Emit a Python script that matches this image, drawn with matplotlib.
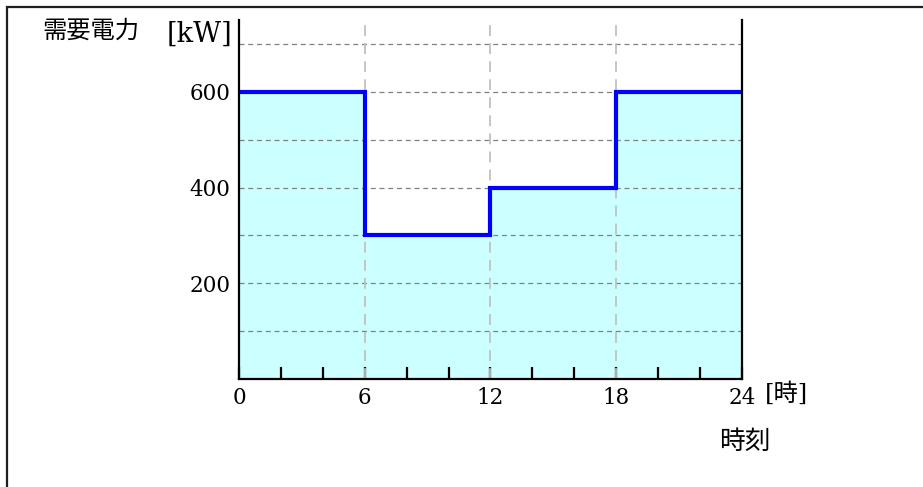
import matplotlib.pyplot as plt
from matplotlib.patches import Rectangle

plt.rcParams['font.family'] = ['DejaVu Serif', 'Noto Sans CJK JP']

# time of day [h] and demand [kW]
hours = [0, 6, 12, 18, 24]
demand = [600, 300, 400, 600]
xtick_labels = ['0', '6', '12', '18', '24']
ytick_vals = [200, 400, 600]

W, H = 923, 487
fig = plt.figure(figsize=(W / 100, H / 100), dpi=100)
ax = fig.add_axes([239/W, 1 - 379/H, (742 - 239)/W, (379 - 20)/H])

# outer frame (runs off the right and bottom edge)
fig.patches.append(Rectangle((7/W, -0.1), 1.2, 1 - 7/H + 0.1, transform=fig.transFigure,
                             fill=False, edgecolor='#202020', linewidth=1.6))

ax.fill_between(hours, demand + [demand[-1]], step='post', color='#ccffff', zorder=1)
ax.stairs(demand, hours, baseline=None, color='#0000ff', linewidth=3, zorder=4)

for y in range(100, 800, 100):
    ax.axhline(y, color='#808080', linestyle=(0, (4, 3)), linewidth=0.9, zorder=2)
for x in [6, 12, 18]:
    ax.axvline(x, color='#c0c0c0', linestyle=(0, (6, 4)), linewidth=1.3, zorder=2)

ax.set_xlim(0, 24)
ax.set_ylim(0, 750)
ax.spines['top'].set_visible(False)
for s in ['left', 'bottom', 'right']:
    ax.spines[s].set_linewidth(1.6)
    ax.spines[s].set_zorder(5)

ax.set_xticks(hours)
ax.set_xticklabels(xtick_labels, fontsize=15.5)
ax.set_xticks(range(0, 25, 2), minor=True)
ax.tick_params(axis='x', which='both', direction='in', length=8.5, width=1.6, pad=6)
ax.set_yticks(ytick_vals)
ax.set_yticklabels([str(v) for v in ytick_vals], fontsize=15.5)
ax.tick_params(axis='y', length=0, pad=6)

# labels placed in figure pixels
px = lambda x, y: (x / W, 1 - y / H)
fig.text(*px(42, 31), '需要電力', ha='left', va='center', fontsize=17.5,
         family=['Noto Sans CJK JP'])
fig.text(*px(232, 34), '[kW]', ha='right', va='center', fontsize=19.5,
         family=['DejaVu Serif'])
fig.text(*px(765, 394), '[時]', ha='left', va='center', fontsize=17.5,
         family=['DejaVu Serif', 'Noto Sans CJK JP'])
fig.text(*px(745, 442), '時刻', ha='center', va='center', fontsize=18.5,
         family=['Noto Sans CJK JP'])

fig.savefig('out.png', dpi=100)
